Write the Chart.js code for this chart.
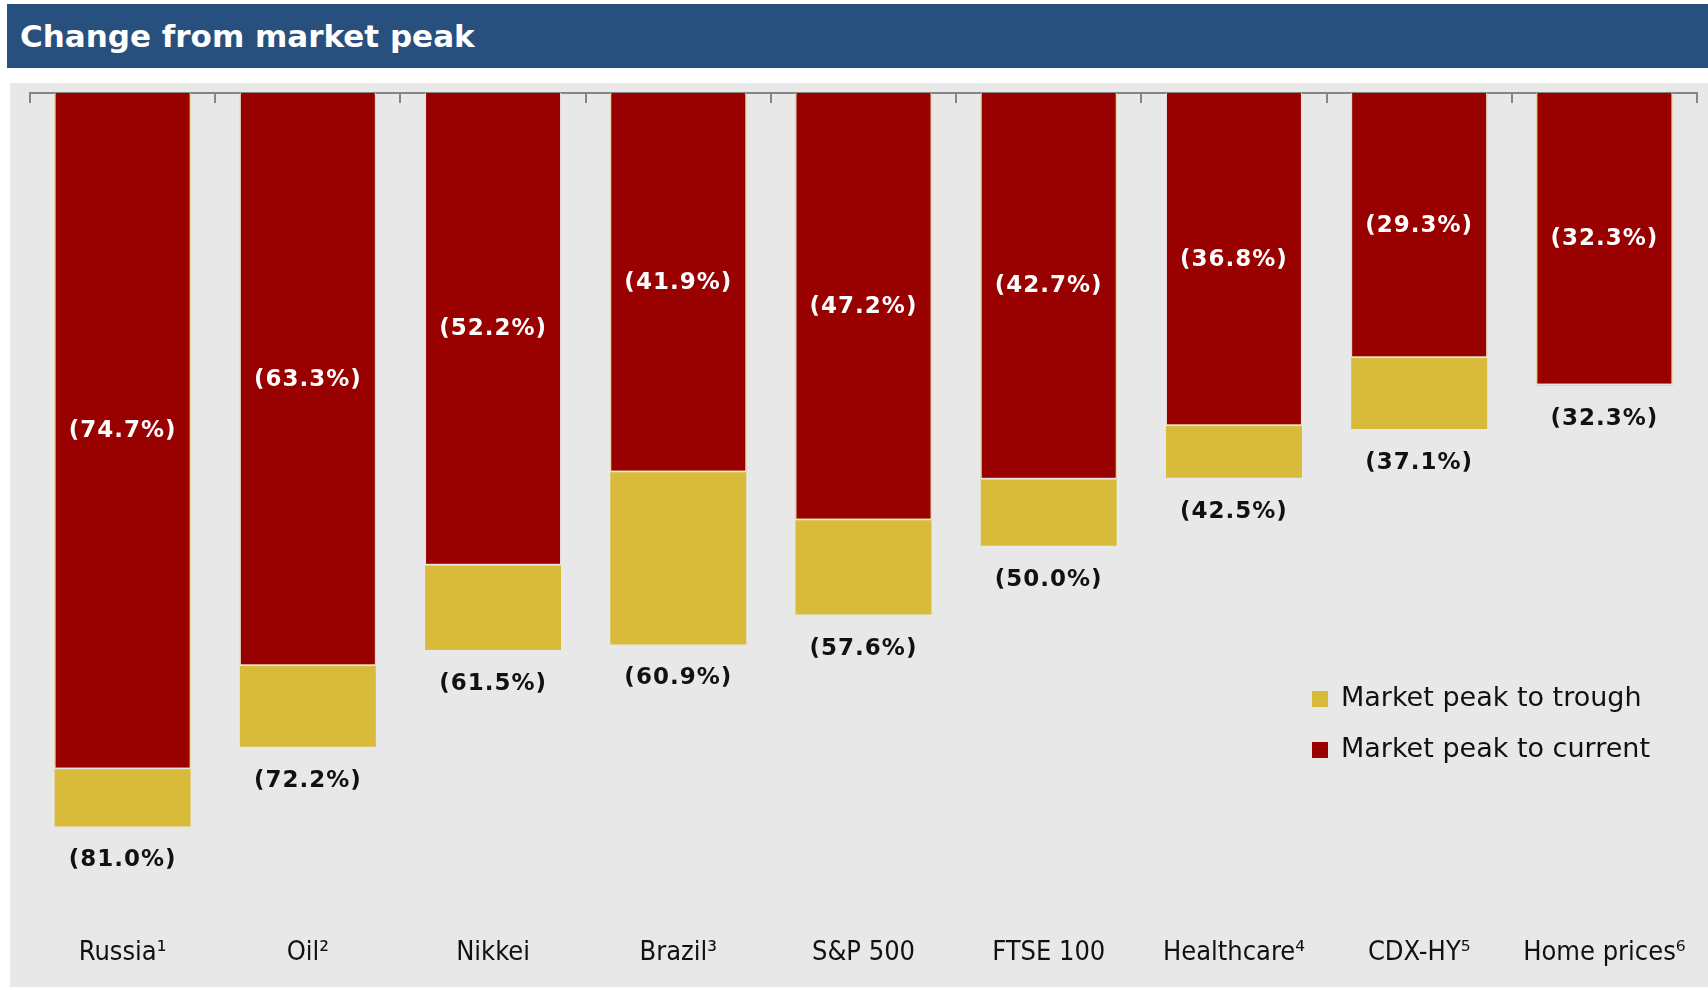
<!DOCTYPE html>
<html>
<head>
<meta charset="utf-8">
<script src="https://cdn.jsdelivr.net/npm/chart.js@4/dist/chart.umd.min.js"></script>
<style>
  body { margin: 0; background: #fff; width: 1708px; height: 990px; overflow: hidden; }
  #title {
    position: absolute; left: 7px; top: 4px; width: 1701px; height: 64px;
    background: #28507f; color: #fff;
    font: bold 31px "DejaVu Sans", sans-serif;
    line-height: 64px; padding-left: 13px; box-sizing: border-box;
  }
  #panel { position: absolute; left: 10px; top: 83px; width: 1698px; height: 904px; background: #e8e8e8; }
</style>
</head>
<body>
<div id="title">Change from market peak</div>
<div id="panel"><canvas id="chart"></canvas></div>
<script>
const categories = ['Russia¹', 'Oil²', 'Nikkei', 'Brazil³', 'S&P 500', 'FTSE 100', 'Healthcare⁴', 'CDX-HY⁵', 'Home prices⁶'];
const peakToTrough = [-81.0, -72.2, -61.5, -60.9, -57.6, -50.0, -42.5, -37.1, -32.3];
const peakToCurrent = [-74.7, -63.3, -52.2, -41.9, -47.2, -42.7, -36.8, -29.3, -32.3];
const seriesNames = ['Market peak to trough', 'Market peak to current'];
const RED = '#990000';
const GOLD = '#d8bb3b';

const fmt = v => '(' + Math.abs(v).toFixed(1) + '%)';

// value labels: white inside the red bar, black under the gold one
const valueLabels = {
  id: 'valueLabels',
  afterDatasetsDraw(chart) {
    const ctx = chart.ctx;
    ctx.save();
    ctx.font = 'bold 23px "DejaVu Sans", sans-serif';
    ctx.letterSpacing = '1px';
    ctx.textAlign = 'center';
    ctx.textBaseline = 'middle';
    chart.getDatasetMeta(1).data.forEach((bar, i) => {
      ctx.fillStyle = '#fff';
      ctx.fillText(fmt(peakToCurrent[i]), bar.x, (bar.y + bar.base) / 2);
    });
    chart.getDatasetMeta(0).data.forEach((bar, i) => {
      ctx.fillStyle = '#111';
      ctx.fillText(fmt(peakToTrough[i]), bar.x, bar.y + 34);
    });
    ctx.restore();
  },
  afterDraw(chart) {
    // legend sits inside the plot, lower right
    const ctx = chart.ctx;
    const x = chart.chartArea.right - 385;
    const y = chart.chartArea.top + 606;
    ctx.save();
    ctx.font = '27px "DejaVu Sans", sans-serif';
    ctx.textBaseline = 'middle';
    [GOLD, RED].forEach((c, i) => {
      ctx.fillStyle = c;
      ctx.fillRect(x, y + i * 51 - 8, 16, 16);
      ctx.fillStyle = '#111';
      ctx.fillText(seriesNames[i], x + 29, y + i * 51);
    });
    ctx.restore();
  }
};

new Chart(document.getElementById('chart'), {
  type: 'bar',
  data: {
    labels: categories,
    datasets: [
      {
        label: seriesNames[0],
        data: peakToTrough,
        backgroundColor: GOLD,
        order: 2,
      },
      {
        label: seriesNames[1],
        data: peakToCurrent,
        backgroundColor: RED,
        borderColor: '#ece4e4',
        borderWidth: { top: 0, left: 1, right: 1, bottom: 2 },
        order: 1,
      },
    ],
  },
  options: {
    responsive: true,
    maintainAspectRatio: false,
    animation: false,
    layout: { padding: { left: 20, right: 11, top: 10, bottom: 0 } },
    datasets: {
      bar: { grouped: false, barPercentage: 0.734, categoryPercentage: 1 },
    },
    plugins: {
      legend: { display: false },
      tooltip: { enabled: false },
    },
    scales: {
      x: {
        position: 'bottom',
        grid: { display: false, drawTicks: false },
        border: { display: false },
        ticks: {
          padding: 29,
          color: '#111',
          font: { family: '"DejaVu Sans Condensed", "Liberation Sans Narrow", sans-serif', size: 27 },
          maxRotation: 0,
          autoSkip: false,
        },
        afterFit: s => { s.height = 79; s.paddingLeft = 0; s.paddingRight = 0; },
      },
      xTop: {
        type: 'category',
        labels: categories,
        position: 'top',
        offset: true,
        grid: { offset: true, drawOnChartArea: false, tickLength: -10, color: '#858585', lineWidth: 2 },
        border: { color: '#858585', width: 2 },
        ticks: { display: false },
        afterFit: s => { s.height = 0; s.paddingLeft = 0; s.paddingRight = 0; },
      },
      y: {
        display: false,
        min: -90,
        max: 0,
      },
    },
  },
  plugins: [valueLabels],
});
</script>
</body>
</html>
